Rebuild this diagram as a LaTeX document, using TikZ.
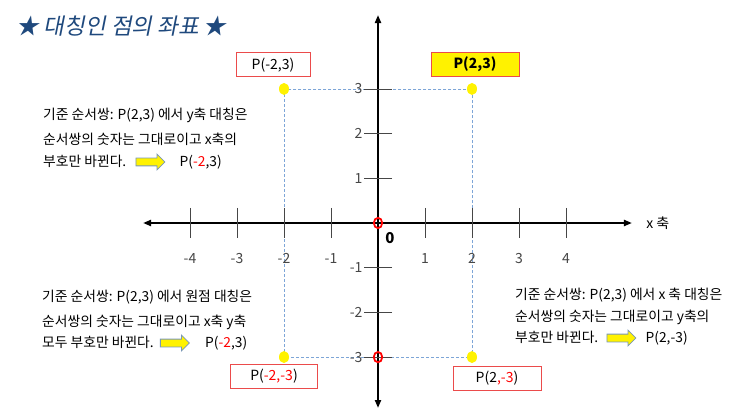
\documentclass[tikz,border=0pt]{standalone}
\usepackage{fontspec}
\setmainfont{Noto Sans CJK KR}
\newfontfamily\titlefont[FakeSlant=0.2]{Noto Sans CJK KR}
\usetikzlibrary{arrows.meta,positioning,shapes.arrows}
\definecolor{titleblue}{RGB}{31,73,125}
\definecolor{boxred}{RGB}{235,75,75}
\definecolor{guideblue}{RGB}{125,165,215}
\definecolor{arrowedge}{RGB}{120,150,185}
\definecolor{tickgray}{RGB}{70,70,70}

\begin{document}
\begin{tikzpicture}[x=47pt, y=44.7pt,
    axis/.style={line width=2pt, {Triangle[length=8pt,width=6pt]}-{Triangle[length=8pt,width=6pt]}},
    axtick/.style={tickgray, line width=0.8pt},
    guide/.style={guideblue, line width=0.8pt, dash pattern=on 3pt off 2pt},
    pbox/.style={draw=boxred, line width=1pt, minimum width=88pt, minimum height=24pt,
        inner sep=0pt, font=\fontsize{14}{14}\selectfont},
    note/.style={anchor=west, inner sep=0pt, text height=10pt, text depth=1pt,
        font=\fontsize{13.8}{14}\selectfont},
    hint/.style={single arrow, draw=arrowedge, fill=yellow, line width=0.8pt,
        minimum height=29pt, inner xsep=0pt, inner ysep=3.5pt, text height=0pt, text depth=0pt,
        single arrow head extend=4pt},
    lbl/.style={font=\fontsize{14}{14}\selectfont}]
    \useasboundingbox (-8.043,-4.362) rectangle (7.766,4.989);

    % title
    \node[font=\titlefont\fontsize{22.5}{22}\selectfont, text=titleblue] (title)
        at (-5.46,4.40) {★ 대칭인 점의 좌표 ★};

    % guide lines
    \draw[guide] (-2,3) rectangle (2,-3);

    % axes
    \draw[axis] (-5,0) -- (5.404,0) node[right=10pt, lbl] (xname) {x 축};
    \draw[axis] (0,-4.139) -- (0,4.653);
    \foreach \i in {-4,-3,-2,-1,1,2,3,4}
        \draw[axtick] (\i,0.34) -- (\i,-0.34) node[lbl] (xt\i) at (\i,-0.80) {\i};
    \foreach \j in {-3,-2,-1,1,2,3}
        \draw[axtick] (0.3,\j) -- (-0.3,\j) node[left, inner sep=1pt, lbl] (yt\j) {\j};
    \node[font=\fontsize{15}{15}\selectfont\bfseries] (zero) at (0.255,-0.336) {0};

    % points
    \foreach \x/\y in {-2/3,2/3,-2/-3,2/-3}
        \fill[yellow] (\x,\y) ellipse [x radius=5pt, y radius=6pt];
    \foreach \y in {0,-3}
        \draw[red, line width=1.8pt] (0,\y) ellipse [x radius=4.2pt, y radius=5.2pt];

    % point labels
    \node[pbox, minimum width=74pt] (pyr) at (-2.234,3.535) {P(-2,3)};
    \node[pbox, fill=yellow, font=\fontsize{14}{14}\selectfont\bfseries] (porig) at (2.064,3.557) {P(2,3)};
    \node[pbox] (porg) at (-2.213,-3.434) {P(\textcolor{red}{-2,-3})};
    \node[pbox] (pxr) at (2.532,-3.479) {P(2\textcolor{red}{,-3})};

    % y-axis symmetry
    \node[note] (yl1) at (-7.128,2.416) {기준 순서쌍: P(2,3) 에서 y축 대칭은};
    \node[note] (yl2) at (-7.128,1.857) {순서쌍의 숫자는 그대로이고 x축의};
    \node[note] (yl3) at (-7.128,1.365) {부호만 바뀐다.};
    \node[hint, right=9pt of yl3] (yarr) {};
    \node[note, right=14pt of yarr] (yres) {P(\textcolor{red}{-2},3)};

    % origin symmetry
    \node[note] (ol1) at (-7.149,-1.655) {기준 순서쌍: P(2,3) 에서 원점 대칭은};
    \node[note] (ol2) at (-7.149,-2.215) {순서쌍의 숫자는 그대로이고 x축 y축};
    \node[note] (ol3) at (-7.149,-2.685) {모두 부호만 바뀐다.};
    \node[hint, right=6pt of ol3] (oarr) {};
    \node[note, right=15pt of oarr] (ores) {P(\textcolor{red}{-2},3)};

    % x-axis symmetry
    \node[note] (xl1) at (2.915,-1.611) {기준 순서쌍: P(2,3) 에서 x 축 대칭은};
    \node[note] (xl2) at (2.915,-2.103) {순서쌍의 숫자는 그대로이고 y축의};
    \node[note] (xl3) at (2.915,-2.573) {부호만 바뀐다.};
    \node[hint, right=8pt of xl3] (xarr) {};
    \node[note, right=9pt of xarr] (xres) {P(2,-3)};
\end{tikzpicture}
\end{document}
